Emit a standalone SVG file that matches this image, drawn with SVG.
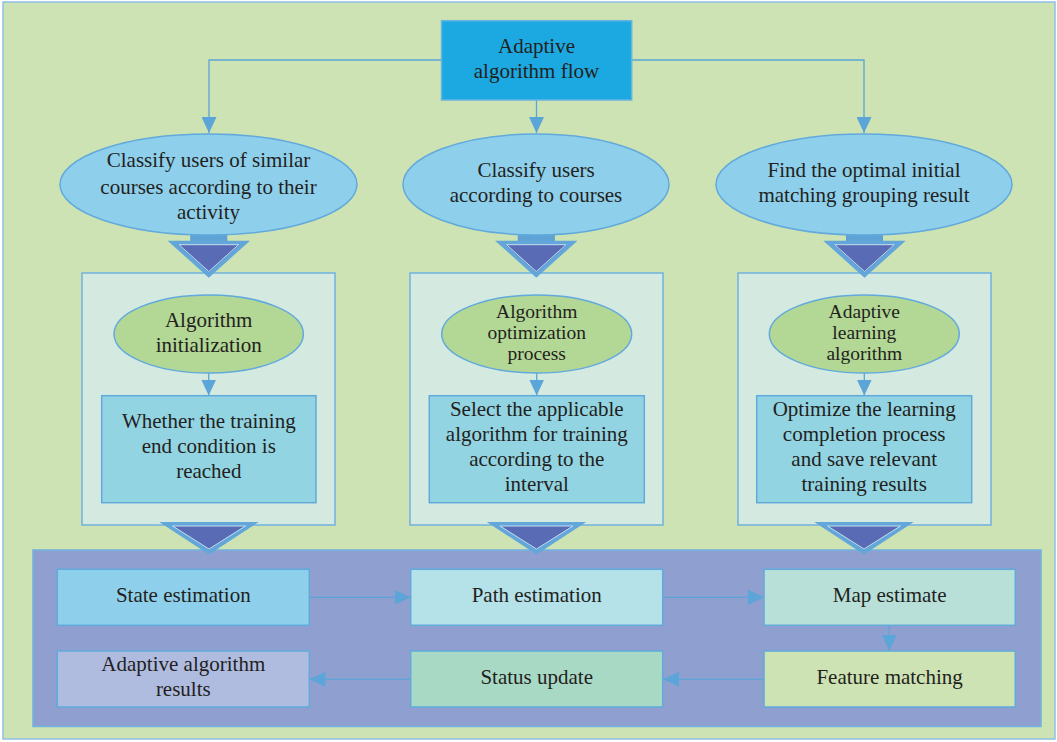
<svg xmlns="http://www.w3.org/2000/svg" width="1057" height="742" viewBox="0 0 1057 742">
<defs>
<style>
text{font-family:"Liberation Serif","Times New Roman",serif;font-size:21px;fill:#231F20;text-anchor:middle}
text.tight{font-size:19.5px}
.ln{stroke:#5BA5D8;stroke-width:1.3;fill:none}
.blue-ell{fill:#8ECFEC;stroke:#62A9DC;stroke-width:1.5}
.green-ell{fill:#B3D794;stroke:#62A9DC;stroke-width:1.5}
.panel{fill:#D4EAE0;stroke:#72B2DE;stroke-width:1.5}
.cyan{fill:#92D4E2;stroke:#62A9DC;stroke-width:1.5}
.bbox{stroke:#62A9DC;stroke-width:1.5}
.shaft{fill:#5FA3D6;stroke:#5A9DD2;stroke-width:1}
.head{fill:#5A6BB6;stroke:#62A6DA;stroke-width:4;stroke-linejoin:miter}
.headin{fill:none;stroke:#C2E0F1;stroke-width:1}
</style>
<marker id="ah" viewBox="0 0 16 15" markerWidth="16" markerHeight="15" refX="16" refY="7.5" orient="auto" markerUnits="userSpaceOnUse">
<path d="M0,0 L16,7.5 L0,15 z" fill="#5BA5D8"/>
</marker>
</defs>

<rect x="3" y="2" width="1052" height="737" fill="#CDE3B3" stroke="#8DC0E4" stroke-width="1.5"/>

<g id="bottom-area">
<rect x="33" y="550" width="1008" height="176.5" fill="#8FA0D0" stroke="#72B2DE" stroke-width="1.5"/>
</g>

<g id="panel-left"><rect class="panel" x="82" y="273" width="253" height="252"/></g>
<g id="panel-mid"><rect class="panel" x="410" y="273" width="253" height="252"/></g>
<g id="panel-right"><rect class="panel" x="738" y="273" width="253" height="252"/></g>

<g id="connectors">
<path class="ln" d="M441.5,60 H209 V133" marker-end="url(#ah)"/>
<path class="ln" d="M536.5,100 V133" marker-end="url(#ah)"/>
<path class="ln" d="M631.7,60 H864 V133" marker-end="url(#ah)"/>
<path class="ln" d="M208.7,373 V395.5" marker-end="url(#ah)"/>
<path class="ln" d="M536.7,373 V395.5" marker-end="url(#ah)"/>
<path class="ln" d="M864.3,373 V395.5" marker-end="url(#ah)"/>
<path class="ln" d="M309.3,597.3 H410.5" marker-end="url(#ah)"/>
<path class="ln" d="M662.7,597.3 H764" marker-end="url(#ah)"/>
<path class="ln" d="M889.3,625.3 V650.8" marker-end="url(#ah)"/>
<path class="ln" d="M764,679.3 H663" marker-end="url(#ah)"/>
<path class="ln" d="M410.7,679.3 H309.5" marker-end="url(#ah)"/>
<g id="block-arrow-left">
<rect class="shaft" x="190.8" y="233" width="36" height="13"/>
<polygon class="head" points="172.8,242.7 244.8,242.7 208.8,275"/>
<polygon class="headin" points="179,244.7 238.6,244.7 208.8,271.5"/>
</g>
<g id="block-arrow-mid">
<rect class="shaft" x="518.3" y="233" width="36" height="13"/>
<polygon class="head" points="500.3,242.7 572.3,242.7 536.3,275"/>
<polygon class="headin" points="506.5,244.7 566.1,244.7 536.3,271.5"/>
</g>
<g id="block-arrow-right">
<rect class="shaft" x="846.5" y="233" width="36" height="13"/>
<polygon class="head" points="828.5,242.7 900.5,242.7 864.5,275"/>
<polygon class="headin" points="834.7,244.7 894.3,244.7 864.5,271.5"/>
</g>
<g id="tri-left">
<polygon class="head" points="166,524 252,524 209,552"/>
<polygon class="headin" points="172.5,526 245.5,526 209,549"/>
</g>
<g id="tri-mid">
<polygon class="head" points="493.5,524 579.5,524 536.5,552"/>
<polygon class="headin" points="500,526 573,526 536.5,549"/>
</g>
<g id="tri-right">
<polygon class="head" points="821,524 907,524 864,552"/>
<polygon class="headin" points="827.5,526 900.5,526 864,549"/>
</g>
</g>

<g id="node-top">
<rect x="441.5" y="20.7" width="190.2" height="79.3" fill="#1CA9E1" stroke="#6AB3E0" stroke-width="1.5"/>
<text x="536.5" y="53.3">Adaptive</text>
<text x="536.5" y="78">algorithm flow</text>
</g>

<g id="node-ell-left">
<ellipse class="blue-ell" cx="208.5" cy="184.5" rx="148.5" ry="50.5"/>
<text x="208.5" y="166.7">Classify users of similar</text>
<text x="208.5" y="194">courses according to their</text>
<text x="208.5" y="219">activity</text>
</g>
<g id="node-ell-mid">
<ellipse class="blue-ell" cx="536" cy="184.5" rx="133" ry="50.5"/>
<text x="536" y="177.3">Classify users</text>
<text x="536" y="202">according to courses</text>
</g>
<g id="node-ell-right">
<ellipse class="blue-ell" cx="864" cy="184.5" rx="148" ry="50.5"/>
<text x="864" y="177.3">Find the optimal initial</text>
<text x="864" y="202">matching grouping result</text>
</g>

<g id="node-init">
<ellipse class="green-ell" cx="208.7" cy="334" rx="94.7" ry="39"/>
<text x="208.7" y="326.7">Algorithm</text>
<text x="208.7" y="351.7">initialization</text>
</g>
<g id="node-opt">
<ellipse class="green-ell" cx="536.7" cy="334" rx="95" ry="39"/>
<text class="tight" x="536.7" y="318">Algorithm</text>
<text class="tight" x="536.7" y="339">optimization</text>
<text class="tight" x="536.7" y="360">process</text>
</g>
<g id="node-adl">
<ellipse class="green-ell" cx="864.3" cy="334" rx="95" ry="39"/>
<text class="tight" x="864.3" y="318">Adaptive</text>
<text class="tight" x="864.3" y="339">learning</text>
<text class="tight" x="864.3" y="360">algorithm</text>
</g>

<g id="node-whether">
<rect class="cyan" x="101.7" y="395.7" width="214.3" height="107"/>
<text x="208.8" y="428.3">Whether the training</text>
<text x="208.8" y="453.3">end condition is</text>
<text x="208.8" y="478.3">reached</text>
</g>
<g id="node-select">
<rect class="cyan" x="429.3" y="395.7" width="215" height="107"/>
<text x="536.8" y="415.7">Select the applicable</text>
<text x="536.8" y="440.7">algorithm for training</text>
<text x="536.8" y="465.7">according to the</text>
<text x="536.8" y="490.7">interval</text>
</g>
<g id="node-optimize">
<rect class="cyan" x="756.7" y="395.7" width="215" height="107"/>
<text x="864.2" y="415.7">Optimize the learning</text>
<text x="864.2" y="440.7">completion process</text>
<text x="864.2" y="465.7">and save relevant</text>
<text x="864.2" y="490.7">training results</text>
</g>

<g id="node-state">
<rect class="bbox" x="57.3" y="569.3" width="252" height="56" fill="#8ED0EB"/>
<text x="183.3" y="602">State estimation</text>
</g>
<g id="node-path">
<rect class="bbox" x="410.7" y="569.3" width="252" height="56" fill="#B5E1E9"/>
<text x="536.7" y="602.3">Path estimation</text>
</g>
<g id="node-map">
<rect class="bbox" x="764" y="569.3" width="251.3" height="56" fill="#B8E0D8"/>
<text x="889.6" y="602.3">Map estimate</text>
</g>
<g id="node-feature">
<rect class="bbox" x="764" y="651" width="251.3" height="56" fill="#CDE3B3"/>
<text x="889.6" y="684.3">Feature matching</text>
</g>
<g id="node-status">
<rect class="bbox" x="410.7" y="651" width="252" height="56" fill="#A8D9C5"/>
<text x="536.7" y="684.3">Status update</text>
</g>
<g id="node-results">
<rect class="bbox" x="57.3" y="651" width="252" height="56" fill="#AFBCE0"/>
<text x="183.3" y="670.7">Adaptive algorithm</text>
<text x="183.3" y="696">results</text>
</g>
</svg>
